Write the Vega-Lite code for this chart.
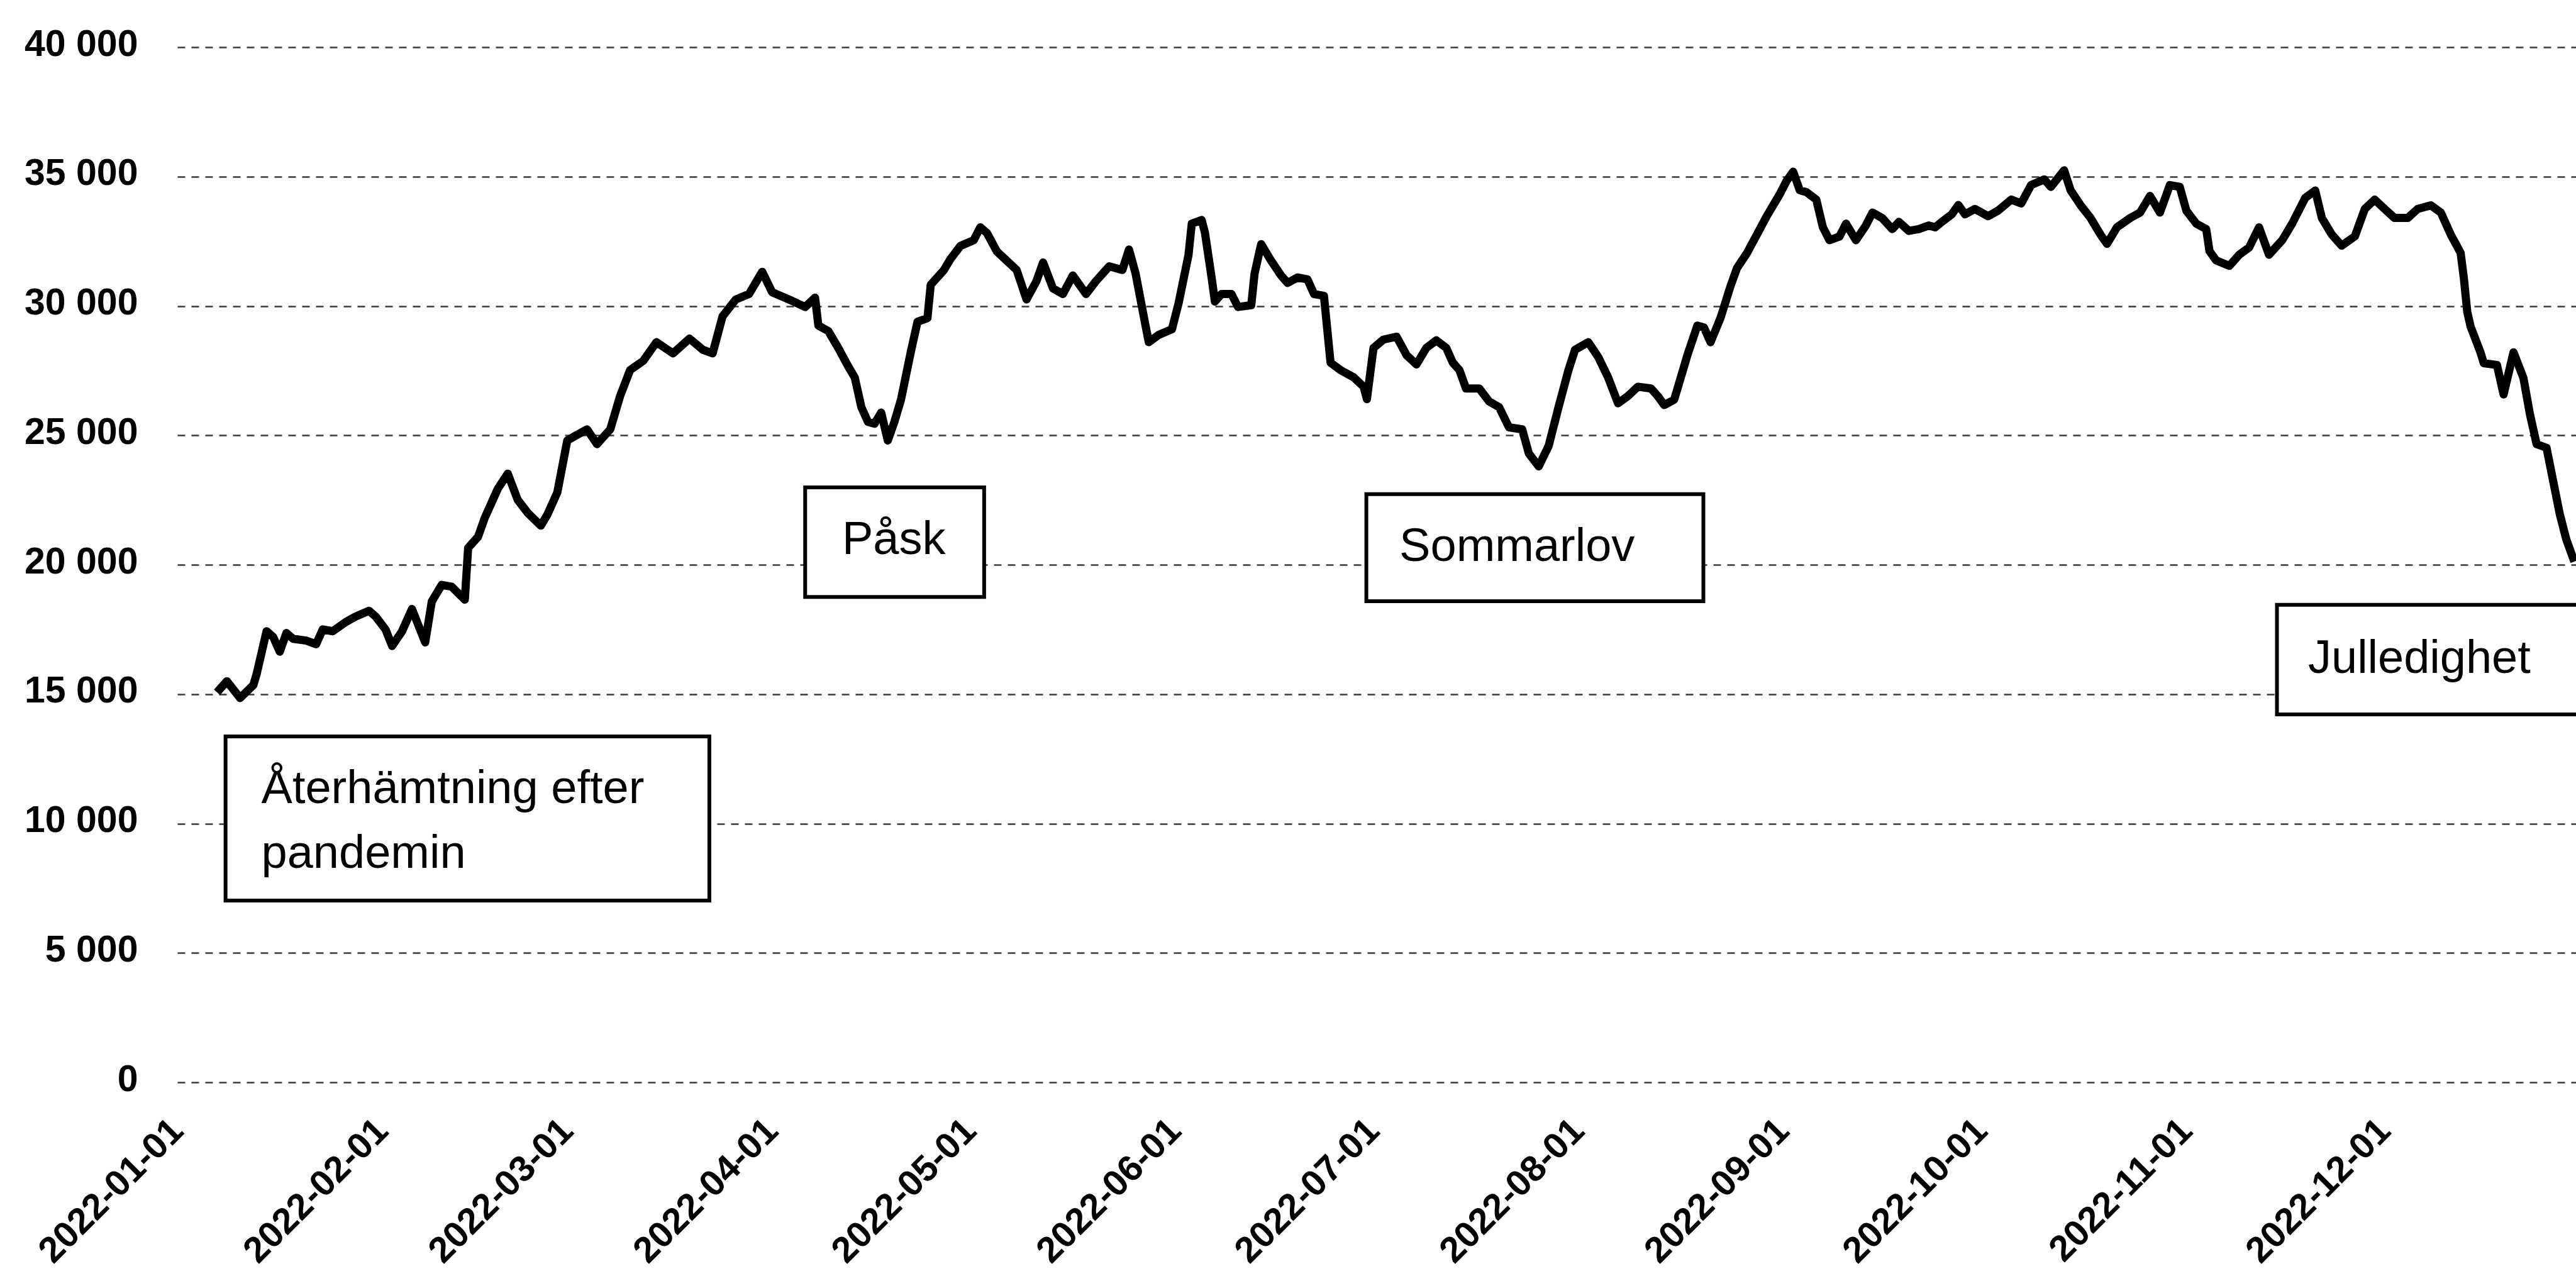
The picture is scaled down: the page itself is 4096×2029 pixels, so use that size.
{
"$schema": "https://vega.github.io/schema/vega-lite/v6.json",
"autosize": {"type": "none"},
"padding": {"left": 282, "top": 75, "right": 0, "bottom": 308},
"width": 3814,
"height": 1646,
"background": "white",
"config": {"view": {"stroke": null}, "font": "Liberation Sans"},
"datasets": {
"series": [
{"date":"2022-01-07T00:00","value":15070},{"date":"2022-01-08T12:00","value":15500},{"date":"2022-01-10T12:00","value":14850},{"date":"2022-01-12T12:00","value":15350},{"date":"2022-01-13T00:00","value":15780},{"date":"2022-01-14T12:00","value":17430},{"date":"2022-01-15T12:00","value":17210},{"date":"2022-01-16T12:00","value":16640},{"date":"2022-01-17T12:00","value":17360},{"date":"2022-01-18T12:00","value":17140},{"date":"2022-01-20T12:00","value":17070},{"date":"2022-01-22T00:00","value":16930},{"date":"2022-01-23T00:00","value":17500},{"date":"2022-01-24T12:00","value":17430},{"date":"2022-01-26T12:00","value":17790},{"date":"2022-01-28T00:00","value":18000},{"date":"2022-01-30T00:00","value":18220},{"date":"2022-01-31T00:00","value":18000},
{"date":"2022-02-01T12:00","value":17500},{"date":"2022-02-02T12:00","value":16860},{"date":"2022-02-04T00:00","value":17430},{"date":"2022-02-05T12:00","value":18290},{"date":"2022-02-07T12:00","value":17000},{"date":"2022-02-08T12:00","value":18580},{"date":"2022-02-10T00:00","value":19220},{"date":"2022-02-11T12:00","value":19150},{"date":"2022-02-13T12:00","value":18650},{"date":"2022-02-14T00:00","value":20650},{"date":"2022-02-15T12:00","value":21080},{"date":"2022-02-16T12:00","value":21800},{"date":"2022-02-18T12:00","value":22940},{"date":"2022-02-20T00:00","value":23520},{"date":"2022-02-21T12:00","value":22510},{"date":"2022-02-23T00:00","value":22010},{"date":"2022-02-25T00:00","value":21510},{"date":"2022-02-26T00:00","value":21940},{"date":"2022-02-27T12:00","value":22800},
{"date":"2022-03-01T00:00","value":24800},{"date":"2022-03-02T00:00","value":24950},{"date":"2022-03-04T00:00","value":25230},{"date":"2022-03-05T12:00","value":24660},{"date":"2022-03-07T12:00","value":25230},{"date":"2022-03-09T00:00","value":26520},{"date":"2022-03-10T12:00","value":27520},{"date":"2022-03-12T12:00","value":27880},{"date":"2022-03-14T12:00","value":28600},{"date":"2022-03-17T00:00","value":28170},{"date":"2022-03-19T12:00","value":28740},{"date":"2022-03-21T12:00","value":28310},{"date":"2022-03-23T00:00","value":28170},{"date":"2022-03-24T12:00","value":29600},{"date":"2022-03-26T12:00","value":30250},{"date":"2022-03-28T12:00","value":30460},{"date":"2022-03-30T12:00","value":31320},
{"date":"2022-04-01T00:00","value":30530},{"date":"2022-04-04T00:00","value":30200},{"date":"2022-04-06T00:00","value":29960},{"date":"2022-04-07T12:00","value":30320},{"date":"2022-04-08T00:00","value":29240},{"date":"2022-04-09T12:00","value":29030},{"date":"2022-04-11T00:00","value":28380},{"date":"2022-04-12T12:00","value":27670},{"date":"2022-04-13T12:00","value":27240},{"date":"2022-04-14T12:00","value":26090},{"date":"2022-04-15T12:00","value":25520},{"date":"2022-04-16T12:00","value":25450},{"date":"2022-04-17T12:00","value":25880},{"date":"2022-04-18T12:00","value":24800},{"date":"2022-04-19T12:00","value":25520},{"date":"2022-04-20T12:00","value":26380},{"date":"2022-04-22T00:00","value":28240},{"date":"2022-04-23T00:00","value":29390},{"date":"2022-04-24T12:00","value":29530},{"date":"2022-04-25T00:00","value":30820},{"date":"2022-04-27T00:00","value":31390},{"date":"2022-04-28T00:00","value":31820},{"date":"2022-04-29T12:00","value":32320},
{"date":"2022-05-01T12:00","value":32540},{"date":"2022-05-02T12:00","value":33040},{"date":"2022-05-03T12:00","value":32820},{"date":"2022-05-05T00:00","value":32110},{"date":"2022-05-06T12:00","value":31750},{"date":"2022-05-08T00:00","value":31390},{"date":"2022-05-09T12:00","value":30250},{"date":"2022-05-11T00:00","value":30960},{"date":"2022-05-12T00:00","value":31680},{"date":"2022-05-13T12:00","value":30680},{"date":"2022-05-15T00:00","value":30460},{"date":"2022-05-16T12:00","value":31180},{"date":"2022-05-18T12:00","value":30460},{"date":"2022-05-20T00:00","value":30960},{"date":"2022-05-22T00:00","value":31530},{"date":"2022-05-24T00:00","value":31390},{"date":"2022-05-25T00:00","value":32180},{"date":"2022-05-26T00:00","value":31250},{"date":"2022-05-27T12:00","value":29240},{"date":"2022-05-28T00:00","value":28600},{"date":"2022-05-29T12:00","value":28880},{"date":"2022-05-31T12:00","value":29100},
{"date":"2022-06-01T12:00","value":30100},{"date":"2022-06-03T00:00","value":31960},{"date":"2022-06-03T12:00","value":33180},{"date":"2022-06-05T00:00","value":33320},{"date":"2022-06-05T12:00","value":32820},{"date":"2022-06-06T12:00","value":31100},{"date":"2022-06-07T00:00","value":30170},{"date":"2022-06-08T00:00","value":30460},{"date":"2022-06-09T12:00","value":30460},{"date":"2022-06-10T12:00","value":29960},{"date":"2022-06-12T12:00","value":30030},{"date":"2022-06-13T00:00","value":31250},{"date":"2022-06-14T00:00","value":32390},{"date":"2022-06-15T12:00","value":31750},{"date":"2022-06-17T00:00","value":31180},{"date":"2022-06-18T00:00","value":30890},{"date":"2022-06-19T12:00","value":31100},{"date":"2022-06-21T00:00","value":31030},{"date":"2022-06-22T00:00","value":30460},{"date":"2022-06-23T12:00","value":30390},{"date":"2022-06-24T12:00","value":27810},{"date":"2022-06-26T00:00","value":27520},{"date":"2022-06-28T00:00","value":27240},{"date":"2022-06-29T12:00","value":26880},{"date":"2022-06-30T00:00","value":26400},
{"date":"2022-07-01T00:00","value":28380},{"date":"2022-07-02T12:00","value":28700},{"date":"2022-07-04T12:00","value":28810},{"date":"2022-07-06T00:00","value":28100},{"date":"2022-07-07T12:00","value":27740},{"date":"2022-07-09T00:00","value":28380},{"date":"2022-07-10T12:00","value":28670},{"date":"2022-07-12T00:00","value":28380},{"date":"2022-07-13T00:00","value":27810},{"date":"2022-07-14T00:00","value":27520},{"date":"2022-07-15T00:00","value":26810},{"date":"2022-07-17T00:00","value":26810},{"date":"2022-07-18T12:00","value":26310},{"date":"2022-07-20T00:00","value":26090},{"date":"2022-07-21T12:00","value":25310},{"date":"2022-07-23T12:00","value":25230},{"date":"2022-07-24T12:00","value":24300},{"date":"2022-07-26T00:00","value":23800},{"date":"2022-07-27T12:00","value":24590},{"date":"2022-07-29T00:00","value":26090},{"date":"2022-07-30T12:00","value":27520},{"date":"2022-07-31T12:00","value":28310},
{"date":"2022-08-02T12:00","value":28600},{"date":"2022-08-04T00:00","value":28030},{"date":"2022-08-05T12:00","value":27240},{"date":"2022-08-07T00:00","value":26240},{"date":"2022-08-08T12:00","value":26520},{"date":"2022-08-10T00:00","value":26880},{"date":"2022-08-12T00:00","value":26810},{"date":"2022-08-13T00:00","value":26520},{"date":"2022-08-14T00:00","value":26170},{"date":"2022-08-15T12:00","value":26380},{"date":"2022-08-16T12:00","value":27240},{"date":"2022-08-17T12:00","value":28100},{"date":"2022-08-19T00:00","value":29240},{"date":"2022-08-20T00:00","value":29170},{"date":"2022-08-21T00:00","value":28600},{"date":"2022-08-22T12:00","value":29530},{"date":"2022-08-24T00:00","value":30750},{"date":"2022-08-25T00:00","value":31460},{"date":"2022-08-26T12:00","value":32040},{"date":"2022-08-28T00:00","value":32750},{"date":"2022-08-29T12:00","value":33470},{"date":"2022-08-31T12:00","value":34330},
{"date":"2022-09-01T12:00","value":34830},{"date":"2022-09-02T12:00","value":35190},{"date":"2022-09-03T12:00","value":34470},{"date":"2022-09-04T12:00","value":34400},{"date":"2022-09-06T00:00","value":34110},{"date":"2022-09-07T00:00","value":33040},{"date":"2022-09-08T00:00","value":32540},{"date":"2022-09-09T12:00","value":32680},{"date":"2022-09-10T12:00","value":33180},{"date":"2022-09-12T00:00","value":32540},{"date":"2022-09-13T12:00","value":33110},{"date":"2022-09-14T12:00","value":33610},{"date":"2022-09-16T00:00","value":33390},{"date":"2022-09-17T12:00","value":32970},{"date":"2022-09-18T12:00","value":33250},{"date":"2022-09-20T00:00","value":32900},{"date":"2022-09-21T12:00","value":32970},{"date":"2022-09-23T00:00","value":33110},{"date":"2022-09-24T00:00","value":33040},{"date":"2022-09-25T00:00","value":33250},{"date":"2022-09-26T12:00","value":33540},{"date":"2022-09-27T12:00","value":33900},{"date":"2022-09-28T12:00","value":33540},{"date":"2022-09-30T00:00","value":33750},
{"date":"2022-10-02T00:00","value":33470},{"date":"2022-10-03T12:00","value":33680},{"date":"2022-10-05T12:00","value":34110},{"date":"2022-10-07T00:00","value":33960},{"date":"2022-10-08T12:00","value":34670},{"date":"2022-10-10T12:00","value":34890},{"date":"2022-10-11T12:00","value":34600},{"date":"2022-10-13T12:00","value":35240},{"date":"2022-10-14T12:00","value":34460},{"date":"2022-10-16T00:00","value":33890},{"date":"2022-10-17T12:00","value":33400},{"date":"2022-10-19T00:00","value":32760},{"date":"2022-10-20T00:00","value":32400},{"date":"2022-10-21T12:00","value":33040},{"date":"2022-10-23T12:00","value":33400},{"date":"2022-10-25T00:00","value":33610},{"date":"2022-10-26T12:00","value":34250},{"date":"2022-10-28T00:00","value":33610},{"date":"2022-10-29T12:00","value":34670},{"date":"2022-10-31T00:00","value":34600},
{"date":"2022-11-01T00:00","value":33680},{"date":"2022-11-02T12:00","value":33180},{"date":"2022-11-04T00:00","value":32970},{"date":"2022-11-04T12:00","value":32120},{"date":"2022-11-05T12:00","value":31760},{"date":"2022-11-07T12:00","value":31550},{"date":"2022-11-09T00:00","value":31980},{"date":"2022-11-10T12:00","value":32260},{"date":"2022-11-12T00:00","value":33040},{"date":"2022-11-13T12:00","value":31980},{"date":"2022-11-15T12:00","value":32540},{"date":"2022-11-17T00:00","value":33180},{"date":"2022-11-19T00:00","value":34180},{"date":"2022-11-20T12:00","value":34460},{"date":"2022-11-21T12:00","value":33400},{"date":"2022-11-23T00:00","value":32760},{"date":"2022-11-24T12:00","value":32330},{"date":"2022-11-26T12:00","value":32690},{"date":"2022-11-28T00:00","value":33750},{"date":"2022-11-29T12:00","value":34110},
{"date":"2022-12-01T00:00","value":33750},{"date":"2022-12-02T12:00","value":33400},{"date":"2022-12-04T12:00","value":33400},{"date":"2022-12-06T00:00","value":33750},{"date":"2022-12-08T00:00","value":33890},{"date":"2022-12-09T12:00","value":33610},{"date":"2022-12-11T00:00","value":32760},{"date":"2022-12-12T12:00","value":32050},{"date":"2022-12-13T00:00","value":31050},{"date":"2022-12-13T12:00","value":29780},{"date":"2022-12-14T00:00","value":29210},{"date":"2022-12-15T12:00","value":28210},{"date":"2022-12-16T00:00","value":27790},{"date":"2022-12-18T00:00","value":27720},{"date":"2022-12-19T00:00","value":26580},{"date":"2022-12-20T12:00","value":28210},{"date":"2022-12-22T00:00","value":27220},{"date":"2022-12-23T00:00","value":25800},{"date":"2022-12-24T00:00","value":24660},{"date":"2022-12-25T12:00","value":24520},{"date":"2022-12-26T12:00","value":23240},{"date":"2022-12-27T12:00","value":21960},{"date":"2022-12-28T12:00","value":20970},{"date":"2022-12-29T17:00","value":20120}
],
"boxes": [
{"date":"2022-01-08T07:00","date2":"2022-03-22T12:00","value":13363,"value2":7025},
{"date":"2022-04-06T00:00","date2":"2022-05-03T02:00","value":22990,"value2":18756},
{"date":"2022-06-29T22:00","date2":"2022-08-19T22:00","value":22730,"value2":18590},
{"date":"2022-11-14T17:00","date2":"2023-01-05T00:00","value":18450,"value2":14215}
],
"labels": [
{"date":"2022-01-13T17:00","value":10785,"text":"Återhämtning efter"},
{"date":"2022-01-13T17:00","value":8278,"text":"pandemin"},
{"date":"2022-04-11T14:00","value":20412,"text":"Påsk"},
{"date":"2022-07-04T22:00","value":20151,"text":"Sommarlov"},
{"date":"2022-11-19T10:00","value":15823,"text":"Julledighet"}
]
},
"encoding": {
"x": {"field": "date", "type": "temporal",
  "scale": {"domain": [{"year": 2022, "month": 1, "date": 1}, {"year": 2022, "month": 12, "date": 29, "hours": 23}]},
  "axis": {"title": null, "values": [{"year":2022,"month":1,"date":1},{"year":2022,"month":2,"date":1},{"year":2022,"month":3,"date":1},{"year":2022,"month":4,"date":1},{"year":2022,"month":5,"date":1},{"year":2022,"month":6,"date":1},{"year":2022,"month":7,"date":1},{"year":2022,"month":8,"date":1},{"year":2022,"month":9,"date":1},{"year":2022,"month":10,"date":1},{"year":2022,"month":11,"date":1},{"year":2022,"month":12,"date":1}],
    "format": "%Y-%m-%d", "labelAngle": -45, "labelAlign": "right", "labelBaseline": "middle",
    "labelFont": "Liberation Sans", "labelFontSize": 58, "labelFontWeight": "bold", "labelColor": "black",
    "labelPadding": 68, "labelLimit": 2000, "ticks": false, "tickSize": 0, "domain": false, "grid": false,
    "labelOverlap": false, "labelFlush": false, "labelBound": false}},
"y": {"field": "value", "type": "quantitative",
  "scale": {"domain": [0, 40000], "nice": false, "zero": true},
  "axis": {"title": null, "values": [0,5000,10000,15000,20000,25000,30000,35000,40000],
    "labelExpr": "replace(format(datum.value, ','), ',', ' ')",
    "labelFont": "Liberation Sans", "labelFontSize": 59, "labelFontWeight": "bold", "labelColor": "black",
    "labelPadding": 63, "labelBaseline": "middle", "labelOffset": -5, "labelLimit": 2000,
    "ticks": false, "tickSize": 0, "domain": false,
    "grid": true, "gridColor": "#3a3a3a", "gridDash": [12, 10], "gridWidth": 2.5}}
},
"layer": [
{"data": {"name": "series"},
 "mark": {"type": "line", "color": "black", "strokeWidth": 13, "strokeJoin": "round", "strokeCap": "butt", "clip": true}},
{"data": {"name": "boxes"},
 "mark": {"type": "rect", "fill": "white", "stroke": "black", "strokeWidth": 6, "clip": true},
 "encoding": {"x2": {"field": "date2"}, "y2": {"field": "value2"}}},
{"data": {"name": "labels"},
 "mark": {"type": "text", "align": "left", "baseline": "alphabetic", "font": "Liberation Sans", "fontSize": 74, "color": "black"},
 "encoding": {"text": {"field": "text", "type": "nominal"}}}
]
}
